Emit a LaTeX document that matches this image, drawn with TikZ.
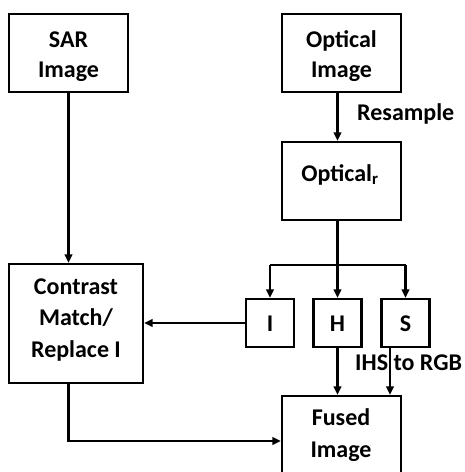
\documentclass[tikz,border=0pt]{standalone}
\usepackage{fontspec}
\setmainfont{Carlito}
\usetikzlibrary{arrows.meta}
\begin{document}
\begin{tikzpicture}[x=1pt,y=-1pt,
  box/.style={draw,line width=2.2pt,inner sep=0pt,rectangle},
  txt/.style={inner sep=0pt,anchor=base,font=\bfseries\fontsize{24}{30}\selectfont},
  lbl/.style={inner sep=0pt,anchor=base west,font=\bfseries\fontsize{24}{30}\selectfont},
  conn/.style={line width=2.2pt},
  arr/.style={line width=2.2pt,-{Triangle[length=8.5pt,width=7.5pt]}}]
\useasboundingbox (0,0) rectangle (465,472);
\clip (0,0) rectangle (465,472);
% boxes
\node[box,minimum width=119,minimum height=78] (sar) at (68.5,53) {};
\node[box,minimum width=119,minimum height=78] (opt) at (341.5,53) {};
\node[box,minimum width=119,minimum height=78] (optr) at (341.5,181) {};
\node[box,minimum width=134,minimum height=119] (contrast) at (76,323.5) {};
\node[box,minimum width=48,minimum height=48] (i) at (270,323) {};
\node[box,minimum width=48,minimum height=48] (h) at (337.5,323) {};
\node[box,minimum width=48,minimum height=48] (s) at (405.5,323) {};
\node[box,minimum width=119,minimum height=100] (fused) at (341.5,446) {};
% texts
\node[txt] (sart1) at (68.5,47) {SAR};
\node[txt] (sart2) at (68.5,77) {Image};
\node[txt] (optt1) at (341.5,47) {Optical};
\node[txt] (optt2) at (341.5,77) {Image};
\node[txt] (optrt) at (340,181) {Optical\textsubscript{r}};
\node[txt] (ct1) at (76,294) {Contrast};
\node[txt] (ct2) at (76,325) {Match/};
\node[txt] (ct3) at (76,357) {Replace I};
\node[txt] (it) at (270,331.5) {I};
\node[txt] (ht) at (337.5,331.5) {H};
\node[txt] (st) at (405.5,331.5) {S};
\node[txt] (ft1) at (341,425) {Fused};
\node[txt] (ft2) at (341,457) {Image};
\node[lbl] (resample) at (357,120) {Resample};
\node[lbl] (ihs) at (355,370) {IHS to RGB};
% connectors
\coordinate (br) at (337.5,265);
\coordinate (cc) at (68.5,441);
\coordinate (sx) at (390,0);
\draw[arr] (sar.south) -- (sar.south |- contrast.north);
\draw[arr] (opt.south -| h) -- (optr.north -| h);
\draw[conn] (optr.south -| h) -- (br);
\draw[conn] (br -| i) -- (br -| s);
\draw[arr] (br -| i) -- (i.north);
\draw[arr] (br) -- (h.north);
\draw[arr] (br -| s) -- (s.north);
\draw[arr] (i.west) -- (i.west -| contrast.east);
\draw[arr] (h.south) -- (h.south |- fused.north);
\draw[arr] (s.south -| sx) -- (fused.north -| sx);
\draw[arr] (contrast.south -| cc) -- (cc) -- (cc -| fused.west);
\end{tikzpicture}
\end{document}
